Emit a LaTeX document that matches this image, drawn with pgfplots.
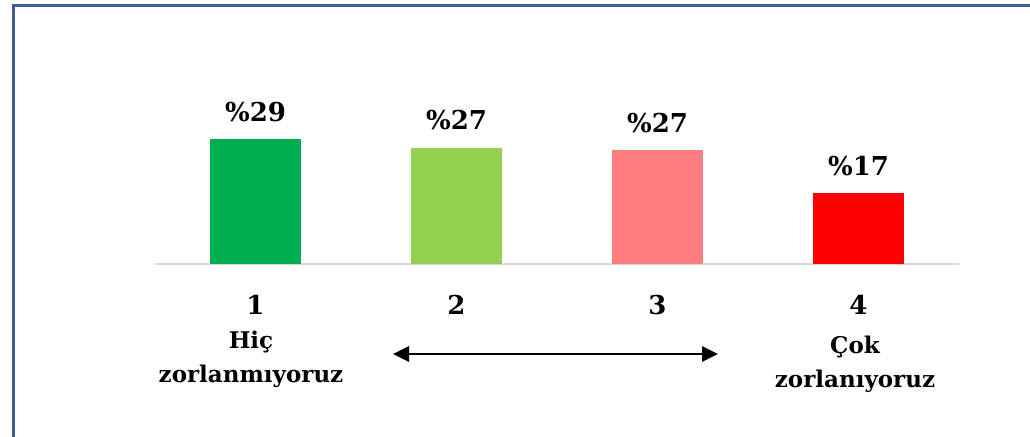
\documentclass[border=0pt]{standalone}
\usepackage{pgfplots}
\pgfplotsset{compat=1.18}
\usepackage{fontspec}
\setmainfont{DejaVu Serif}
\usetikzlibrary{arrows.meta}
\definecolor{frameblue}{RGB}{62,92,156}
\definecolor{cA}{HTML}{00B050}
\definecolor{cB}{HTML}{92D050}
\definecolor{cC}{HTML}{FF7C80}
\definecolor{cD}{HTML}{FF0000}
\definecolor{axgray}{HTML}{D9D9D9}
\begin{document}
\begin{tikzpicture}
\path[use as bounding box] (0,0) rectangle (515pt,218pt);
\fill[white] (0,0) rectangle (515pt,218pt);
\draw[frameblue, line width=1.7pt, line cap=rect, line join=miter] (6.75pt,-2pt) -- (6.75pt,215.3pt) -- (517pt,215.3pt);
\begin{axis}[
  at={(77.5pt,86.25pt)}, anchor=south west,
  scale only axis, width=402pt, height=85.7pt,
  xmin=0.5, xmax=4.5, ymin=0, ymax=40,
  ybar, bar width=45.5pt,
  axis y line=none,
  axis x line*=bottom,
  x axis line style={draw=axgray, line width=1pt, -},
  major tick length=0pt,
  xtick={1,2,3,4}, xticklabels={1,2,3,4},
  xticklabel style={anchor=base, yshift=-25.5pt, inner sep=0pt, font=\fontsize{13}{15}\selectfont\bfseries},
  ytick=\empty,
  clip=false,
  point meta=explicit symbolic,
  nodes near coords={\%\pgfplotspointmeta},
  every node near coord/.append style={anchor=base, inner sep=0pt, yshift=9pt, text=black, font=\fontsize{13}{15}\selectfont\bfseries},
]
\addplot[fill=cA, draw=none, bar shift=0pt] coordinates {(1,29.0) [29]};
\addplot[fill=cB, draw=none, bar shift=0pt] coordinates {(2,26.97) [27]};
\addplot[fill=cC, draw=none, bar shift=0pt] coordinates {(3,26.4) [27]};
\addplot[fill=cD, draw=none, bar shift=0pt] coordinates {(4,16.4) [17]};
\end{axis}
\begin{scope}[every node/.style={anchor=base, inner sep=0pt, font=\fontsize{11.5}{14}\selectfont\bfseries}]
\node at (125.5pt,44pt) {Hiç};
\node at (125.5pt,27pt) {zorlanmıyoruz};
\node at (427.5pt,41.5pt) {Çok};
\node at (427.5pt,24.5pt) {zorlanıyoruz};
\end{scope}
\draw[line width=1.4pt, {Triangle[length=8pt,width=7.5pt]}-{Triangle[length=8pt,width=7.5pt]}] (196.5pt,41pt) -- (359pt,41pt);
\end{tikzpicture}
\end{document}
